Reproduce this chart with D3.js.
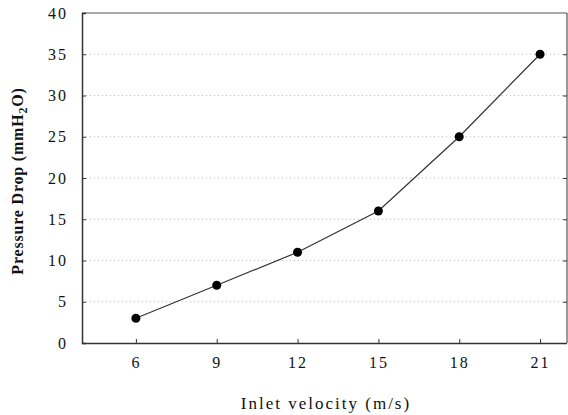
<!DOCTYPE html>
<html>
<head>
<meta charset="utf-8">
<script src="https://cdn.jsdelivr.net/npm/d3@7"></script>
<style>
  body { margin: 0; background: #fff; }
  svg { display: block; }
</style>
</head>
<body>
<svg id="chart" width="568" height="415"></svg>
<script>
// inlet velocity (m/s) and pressure drop (mmH2O)
const velocity = [6, 9, 12, 15, 18, 21];
const pressureDrop = [3, 7, 11, 16, 25, 35];
const xTicks = [6, 9, 12, 15, 18, 21];
const yTicks = [0, 5, 10, 15, 20, 25, 30, 35, 40];

const serif = "'Liberation Serif', 'Times New Roman', Times, serif";

const svg = d3.select("#chart");
const plotLeft = 82, plotRight = 567, plotTop = 13, plotBottom = 343;

const x = d3.scaleLinear().domain([4, 22]).range([plotLeft, plotRight]);
const y = d3.scaleLinear().domain([0, 40]).range([plotBottom, plotTop]);

// dotted grid
svg.append("g")
  .selectAll("line")
  .data(yTicks.filter(d => d > 0 && d < 40))
  .enter()
  .append("line")
  .attr("x1", plotLeft)
  .attr("x2", plotRight)
  .attr("y1", d => y(d))
  .attr("y2", d => y(d))
  .attr("stroke", "#b8b8b8")
  .attr("stroke-width", 1)
  .attr("stroke-dasharray", "1,3");

// frame: top and right
svg.append("line").attr("x1", plotLeft).attr("x2", plotRight).attr("y1", plotTop).attr("y2", plotTop)
  .attr("stroke", "#555").attr("stroke-width", 1.2);
svg.append("line").attr("x1", plotRight).attr("x2", plotRight).attr("y1", plotTop).attr("y2", plotBottom)
  .attr("stroke", "#555").attr("stroke-width", 1.2);

const yAxis = svg.append("g")
  .attr("transform", `translate(${plotLeft},0)`)
  .call(d3.axisLeft(y).tickValues(yTicks).tickSize(-4).tickPadding(14));

const yAxisRight = svg.append("g")
  .attr("transform", `translate(${plotRight},0)`)
  .call(d3.axisRight(y).tickValues(yTicks.filter(d => d > 0 && d < 40)).tickSize(-4).tickFormat(""));
yAxisRight.select(".domain").remove();

const xAxis = svg.append("g")
  .attr("transform", `translate(0,${plotBottom})`)
  .call(d3.axisBottom(x).tickValues(xTicks).tickSize(-4).tickPadding(14));
xAxis.select(".domain").attr("d", `M${plotLeft},0.5H${plotRight}`);

svg.selectAll("g").attr("font-family", null).attr("font-size", null);
svg.selectAll(".domain").attr("stroke", "#333").attr("stroke-width", 1.5);
svg.selectAll(".tick line").attr("stroke", "#333");
svg.selectAll(".tick text")
  .attr("font-family", serif)
  .attr("font-size", 16)
  .attr("letter-spacing", 2)
  .attr("fill", "#111");

// series line and points
const line = d3.line()
  .x((d, i) => x(velocity[i]))
  .y(d => y(d));

svg.append("path")
  .datum(pressureDrop)
  .attr("d", line)
  .attr("fill", "none")
  .attr("stroke", "#333")
  .attr("stroke-width", 1.2);

svg.selectAll("circle")
  .data(pressureDrop)
  .enter()
  .append("circle")
  .attr("cx", (d, i) => x(velocity[i]))
  .attr("cy", d => y(d))
  .attr("r", 4.5)
  .attr("fill", "#000");

// axis titles
svg.append("text")
  .attr("x", 326)
  .attr("y", 409)
  .attr("text-anchor", "middle")
  .attr("font-family", serif)
  .attr("font-size", 17)
  .attr("letter-spacing", 2)
  .attr("fill", "#111")
  .text("Inlet velocity (m/s)");

const yTitle = svg.append("text")
  .attr("transform", "translate(23,181) rotate(-90)")
  .attr("text-anchor", "middle")
  .attr("font-family", serif)
  .attr("font-size", 16)
  .attr("font-weight", "bold")
  .attr("letter-spacing", 0.8)
  .attr("fill", "#111");
yTitle.append("tspan").text("Pressure Drop (mmH");
yTitle.append("tspan").attr("dy", 4).attr("font-size", 12).text("2");
yTitle.append("tspan").attr("dy", -4).text("O)");
</script>
</body>
</html>
